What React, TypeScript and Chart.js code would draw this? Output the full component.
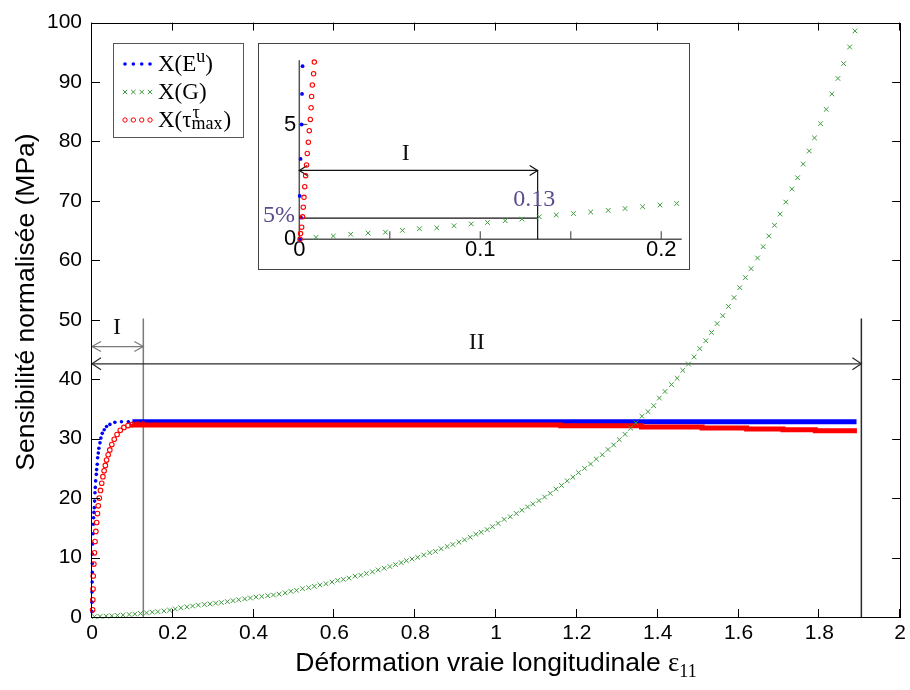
import React, { useEffect, useRef } from "react";
import { Chart, registerables } from "chart.js";
Chart.register(...registerables);

const SANS = '"Liberation Sans", Arial, Helvetica, sans-serif';
const SERIF = '"Liberation Serif", "Times New Roman", Times, serif';

// ---------------- main chart data (strain, normalised sensitivity MPa) ----------------
const blueRise: number[][] = [
  [0, 0.9], [0, 2.5], [0, 4.2], [0.0004, 5.9], [0.0008, 7.5], [0.0008, 9.0], [0.0012, 10.6],
  [0.0016, 12.3], [0.0025, 14.0], [0.0033, 15.6], [0.004, 16.7], [0.0049, 17.6], [0.0057, 18.4],
  [0.0065, 19.5], [0.0074, 20.9], [0.0082, 21.8], [0.009, 22.9], [0.0107, 24.0], [0.0115, 24.8],
  [0.013, 25.7], [0.014, 26.8], [0.0156, 27.6], [0.017, 28.4], [0.0197, 29.3], [0.022, 30.1],
  [0.0254, 30.9], [0.0303, 31.5], [0.036, 32.05], [0.0443, 32.4], [0.0566, 32.75], [0.073, 32.85],
  [0.09, 32.85], [0.106, 32.85],
];
const bluePlateau: number[][] = [[0.1, 32.85], [1.892, 32.85]];

const redRise: number[][] = [
  [0.0015, 1.2], [0.002, 2.9], [0.0025, 4.7], [0.003, 6.9], [0.0045, 8.9], [0.006, 10.8],
  [0.0075, 12.7], [0.0095, 14.4], [0.0115, 15.9], [0.0135, 17.4], [0.0155, 18.7], [0.018, 20.0],
  [0.021, 21.3], [0.024, 22.5], [0.027, 23.6], [0.03, 24.6], [0.033, 25.5], [0.036, 26.4],
  [0.04, 27.3], [0.044, 28.1], [0.049, 29.0], [0.055, 29.9], [0.062, 30.7], [0.07, 31.4],
  [0.079, 31.9], [0.089, 32.2], [0.1, 32.4], [0.113, 32.45], [0.126, 32.45],
];
const redPlateau: number[][] = [
  [0.1, 32.45], [1.16, 32.3], [1.36, 32.16], [1.51, 31.95], [1.62, 31.78], [1.71, 31.61],
  [1.79, 31.5], [1.85, 31.33], [1.893, 31.33],
];

const greenPoints: number[][] = [
  [0.006, 0.05], [0.02, 0.1], [0.035, 0.15], [0.049, 0.2], [0.063, 0.27], [0.077, 0.33],
  [0.092, 0.42], [0.106, 0.5], [0.12, 0.6], [0.135, 0.7], [0.149, 0.8], [0.163, 0.9],
  [0.178, 1.02], [0.192, 1.15], [0.206, 1.35], [0.22, 1.55], [0.235, 1.7], [0.249, 1.85],
  [0.263, 2.0], [0.278, 2.1], [0.292, 2.2], [0.306, 2.32], [0.32, 2.44], [0.335, 2.58],
  [0.349, 2.75], [0.363, 2.9], [0.378, 3.05], [0.392, 3.2], [0.406, 3.35], [0.42, 3.45],
  [0.435, 3.58], [0.449, 3.7], [0.463, 3.85], [0.478, 4.05],
  [0.492, 4.33], [0.506, 4.49], [0.521, 4.77], [0.536, 4.94], [0.55, 5.16], [0.564, 5.38],
  [0.579, 5.6], [0.594, 5.88], [0.608, 6.16], [0.622, 6.32], [0.636, 6.54], [0.651, 6.88],
  [0.665, 7.04], [0.679, 7.32], [0.694, 7.6], [0.708, 7.93], [0.723, 8.21], [0.737, 8.49],
  [0.751, 8.82], [0.765, 9.15], [0.778, 9.48], [0.792, 9.76], [0.806, 10.04], [0.821, 10.43],
  [0.836, 10.82], [0.85, 11.04], [0.864, 11.48], [0.879, 11.87], [0.893, 12.2], [0.908, 12.59],
  [0.922, 12.98], [0.936, 13.42], [0.95, 13.92], [0.963, 14.25], [0.978, 14.7], [0.991, 15.2],
  [1.005, 15.75], [1.02, 16.42], [1.035, 16.86], [1.05, 17.42], [1.064, 17.97], [1.078, 18.52],
  [1.091, 19.02], [1.106, 19.58], [1.12, 20.19], [1.134, 20.8], [1.148, 21.52], [1.162, 22.13],
  [1.176, 22.91], [1.19, 23.52], [1.204, 24.29], [1.219, 25.01], [1.234, 25.74], [1.248, 26.57],
  [1.263, 27.29], [1.277, 28.18], [1.291, 28.95], [1.305, 29.84], [1.319, 30.73], [1.333, 31.78],
  [1.346, 32.67], [1.361, 33.78], [1.376, 34.55], [1.39, 35.55], [1.404, 36.83], [1.418, 37.94],
  [1.434, 39.1], [1.448, 40.16], [1.462, 41.49], [1.476, 42.54], [1.49, 43.76], [1.504, 45.15],
  [1.519, 46.48], [1.533, 47.86], [1.547, 49.36], [1.561, 50.69], [1.575, 52.25], [1.589, 53.74],
  [1.603, 55.41], [1.617, 57.1], [1.631, 58.6], [1.647, 60.4], [1.661, 62.3], [1.675, 64.1],
  [1.689, 65.9], [1.703, 67.8], [1.717, 69.8], [1.732, 72.0], [1.746, 73.9], [1.76, 76.2],
  [1.775, 78.4], [1.788, 80.6], [1.803, 83.0], [1.817, 85.4], [1.831, 88.0], [1.846, 90.6],
  [1.86, 93.1], [1.875, 95.9], [1.888, 98.6],
];

// ---------------- inset data ----------------
const insetBlue: number[][] = [
  [0.0004, 0], [0.0009, 0.95], [0.0002, 1.89], [0.0007, 3.5], [0.0013, 5.0], [0.0015, 6.33], [0.0018, 7.54],
];
const insetRed: number[][] = [
  [0.0004, 0], [0.0007, 0.25], [0.0013, 0.53], [0.0018, 0.98], [0.0022, 1.4], [0.0026, 1.83],
  [0.003, 2.29], [0.0035, 2.77], [0.004, 3.24], [0.0044, 3.74], [0.005, 4.23], [0.0055, 4.73],
  [0.0061, 5.22], [0.0065, 5.73], [0.0068, 6.22], [0.0072, 6.72], [0.0079, 7.21], [0.0083, 7.72],
];
const insetGreen: number[][] = [
  [0.0092, 0.084], [0.0188, 0.14], [0.0284, 0.22], [0.038, 0.27], [0.0476, 0.31], [0.057, 0.39],
  [0.0664, 0.46], [0.076, 0.5], [0.0855, 0.59], [0.095, 0.67], [0.104, 0.73], [0.1138, 0.81],
  [0.123, 0.88], [0.1326, 0.98], [0.142, 1.06], [0.1515, 1.12], [0.161, 1.19], [0.1707, 1.26],
  [0.18, 1.34], [0.1897, 1.42], [0.1993, 1.49], [0.2085, 1.56],
];

// ---------------- axes / annotations ----------------
const xMin = 0, xMax = 2, xStep = 0.2;
const yMin = 0, yMax = 100, yStep = 10;
const insetXMax = 0.2113, insetYMax = 7.8;
const insetXLabels = ["0", "0.1", "0.2"];
const insetYLabels = ["0", "5"];

const regionIEnd = 0.127;
const regionIIEnd = 1.904;
const regionLineTop = 50.2;
const arrowIY = 45.5;
const arrowIIY = 42.6;
const labelIPos = [0.062, 48.6];
const labelIIPos = [0.952, 46.1];

const insetThresholdX = 0.1317;
const insetThresholdY = 0.92;
const insetArrowY = 3.0;
const insetLabelIPos = [0.0588, 3.71];
const insetLabel013Pos = [0.1298, 1.72];
const insetLabel5Pos = [-0.0112, 1.02];

const BLUE = "#0000ff";
const RED = "#ff0000";
const GREEN = "#3c9c3c";
const PURPLE = "#5b4a8c";

const pts = (a: number[][]) => a.map(([x, y]) => ({ x, y }));

function fmtNum(v: number) {
  const r = Math.round(v * 1000) / 1000;
  return String(r);
}

function line(ctx: any, x1: number, y1: number, x2: number, y2: number) {
  ctx.beginPath();
  ctx.moveTo(x1, y1);
  ctx.lineTo(x2, y2);
  ctx.stroke();
}

function arrowHead(ctx: any, x: number, y: number, dir: number, len: number, half: number) {
  ctx.beginPath();
  ctx.moveTo(x + dir * len, y - half);
  ctx.lineTo(x, y);
  ctx.lineTo(x + dir * len, y + half);
  ctx.stroke();
}

function drawRich(ctx: any, x: number, y: number, segs: any[], align: string) {
  let total = 0;
  for (const s of segs) {
    ctx.font = s[1];
    total += ctx.measureText(s[0]).width;
  }
  let cx = align === "center" ? x - total / 2 : x;
  for (const s of segs) {
    ctx.font = s[1];
    ctx.fillText(s[0], cx, y + (s[2] || 0));
    cx += ctx.measureText(s[0]).width;
  }
}

function crossMark(ctx: any, x: number, y: number, r: number) {
  ctx.beginPath();
  ctx.moveTo(x - r, y - r);
  ctx.lineTo(x + r, y + r);
  ctx.moveTo(x - r, y + r);
  ctx.lineTo(x + r, y - r);
  ctx.stroke();
}

const mainDecor = {
  id: "mainDecor",
  beforeDraw(chart: any) {
    const { ctx, width, height } = chart;
    ctx.save();
    ctx.fillStyle = "#fff";
    ctx.fillRect(0, 0, width, height);
    ctx.restore();
  },
  beforeDatasetsDraw(chart: any) {
    const ctx = chart.ctx;
    const xs = chart.scales.x, ys = chart.scales.y;
    const X = (v: number) => xs.getPixelForValue(v);
    const Y = (v: number) => ys.getPixelForValue(v);
    ctx.save();
    ctx.lineWidth = 1.5;
    // region I boundary (grey) and arrow
    ctx.strokeStyle = "#7a7a7a";
    line(ctx, X(regionIEnd), Y(0), X(regionIEnd), Y(regionLineTop));
    ctx.lineWidth = 1.2;
    line(ctx, X(0), Y(arrowIY), X(regionIEnd), Y(arrowIY));
    arrowHead(ctx, X(0), Y(arrowIY), 1, 9, 5);
    arrowHead(ctx, X(regionIEnd), Y(arrowIY), -1, 9, 5);
    // region II boundary and arrow
    ctx.strokeStyle = "#2a2a2a";
    ctx.lineWidth = 1.5;
    line(ctx, X(regionIIEnd), Y(0), X(regionIIEnd), Y(regionLineTop));
    ctx.lineWidth = 1.2;
    line(ctx, X(0), Y(arrowIIY), X(regionIIEnd), Y(arrowIIY));
    arrowHead(ctx, X(0), Y(arrowIIY), 1, 9, 6);
    arrowHead(ctx, X(regionIIEnd), Y(arrowIIY), -1, 9, 6);
    ctx.restore();
  },
  afterDatasetsDraw(chart: any) {
    const ctx = chart.ctx;
    const xs = chart.scales.x, ys = chart.scales.y;
    const X = (v: number) => xs.getPixelForValue(v);
    const Y = (v: number) => ys.getPixelForValue(v);
    const { left, right, top, bottom } = chart.chartArea;
    ctx.save();
    // box
    ctx.strokeStyle = "#000";
    ctx.lineWidth = 1;
    ctx.strokeRect(Math.round(left) - 0.5, Math.round(top) + 0.5, Math.round(right - left) + 1, Math.round(bottom - top));
    // inward ticks
    const tl = 8;
    for (const t of xs.ticks) {
      const px = Math.round(X(t.value)) - 0.5;
      line(ctx, px, bottom, px, bottom - tl);
      line(ctx, px, top, px, top + tl);
    }
    for (const t of ys.ticks) {
      const py = Math.round(Y(t.value)) + 0.5;
      line(ctx, left, py, left + tl, py);
      line(ctx, right, py, right - tl, py);
    }
    // region labels
    ctx.fillStyle = "#111";
    ctx.textAlign = "center";
    ctx.textBaseline = "middle";
    ctx.font = `24px ${SERIF}`;
    ctx.fillText("I", X(labelIPos[0]), Y(labelIPos[1]));
    ctx.fillText("II", X(labelIIPos[0]), Y(labelIIPos[1]));

    // legend
    const lx = 113.5, ly = 43.5, lw = 130, lh = 94;
    ctx.fillStyle = "#fff";
    ctx.fillRect(lx, ly, lw, lh);
    ctx.strokeStyle = "#555";
    ctx.lineWidth = 1;
    ctx.strokeRect(lx, ly, lw, lh);
    const mx = [125, 133.3, 141.7, 150];
    ctx.fillStyle = BLUE;
    for (const m of mx) {
      ctx.beginPath();
      ctx.arc(m, 64, 1.8, 0, Math.PI * 2);
      ctx.fill();
    }
    ctx.strokeStyle = GREEN;
    for (const m of mx) crossMark(ctx, m, 92, 2.2);
    ctx.strokeStyle = RED;
    for (const m of mx) {
      ctx.beginPath();
      ctx.arc(m, 120, 2.2, 0, Math.PI * 2);
      ctx.stroke();
    }
    ctx.fillStyle = "#000";
    ctx.textAlign = "left";
    ctx.textBaseline = "alphabetic";
    const big = `23px ${SERIF}`, small = `18px ${SERIF}`;
    drawRich(ctx, 158, 71, [["X(E", big, 0], ["u", small, -9], [")", big, 0]], "left");
    drawRich(ctx, 158, 98.5, [["X(G)", big, 0]], "left");
    ctx.font = big;
    let cx = 158;
    ctx.fillText("X(τ", cx, 126.5);
    cx += ctx.measureText("X(τ").width;
    ctx.font = small;
    ctx.fillText("τ", cx + 1, 118);
    ctx.fillText("max", cx, 129);
    cx += ctx.measureText("max").width + 1;
    ctx.font = big;
    ctx.fillText(")", cx, 126.5);

    // axis titles
    ctx.fillStyle = "#000";
    const titleFont = `26.5px ${SANS}`;
    drawRich(
      ctx, 496, 671,
      [["Déformation vraie longitudinale ", titleFont, 0], ["ε", `27px ${SERIF}`, 0], ["11", `18px ${SERIF}`, 6]],
      "center"
    );
    ctx.save();
    ctx.translate(33.6, 302);
    ctx.rotate(-Math.PI / 2);
    ctx.textAlign = "center";
    ctx.font = titleFont;
    ctx.fillText("Sensibilité normalisée (MPa)", 0, 0);
    ctx.restore();
    ctx.restore();
  },
};

const insetDecor = {
  id: "insetDecor",
  beforeDraw(chart: any) {
    const { ctx, width, height } = chart;
    ctx.save();
    ctx.fillStyle = "#fff";
    ctx.fillRect(0, 0, width, height);
    ctx.restore();
  },
  beforeDatasetsDraw(chart: any) {
    const ctx = chart.ctx;
    const xs = chart.scales.x, ys = chart.scales.y;
    const X = (v: number) => xs.getPixelForValue(v);
    const Y = (v: number) => ys.getPixelForValue(v);
    const { left, right, top, bottom } = chart.chartArea;
    ctx.save();
    // axes lines
    ctx.strokeStyle = "#555";
    ctx.lineWidth = 1.5;
    line(ctx, left, top, left, bottom);
    line(ctx, left, bottom, right, bottom);
    // inward ticks
    ctx.lineWidth = 1.2;
    for (const t of xs.ticks) {
      if (t.value === 0) continue;
      const px = X(t.value);
      line(ctx, px, bottom, px, bottom - 8);
    }
    for (const t of ys.ticks) {
      if (t.value === 0) continue;
      const py = Y(t.value);
      line(ctx, left, py, left + 8, py);
    }
    // annotations
    ctx.strokeStyle = "#111";
    ctx.lineWidth = 1.2;
    line(ctx, X(0), Y(insetThresholdY), X(insetThresholdX), Y(insetThresholdY));
    line(ctx, X(insetThresholdX), Y(0), X(insetThresholdX), Y(insetArrowY));
    line(ctx, X(0), Y(insetArrowY), X(insetThresholdX), Y(insetArrowY));
    arrowHead(ctx, X(0), Y(insetArrowY), 1, 8, 5);
    arrowHead(ctx, X(insetThresholdX), Y(insetArrowY), -1, 8, 5);
    ctx.restore();
  },
  afterDatasetsDraw(chart: any) {
    const ctx = chart.ctx;
    const xs = chart.scales.x, ys = chart.scales.y;
    const X = (v: number) => xs.getPixelForValue(v);
    const Y = (v: number) => ys.getPixelForValue(v);
    ctx.save();
    ctx.textAlign = "center";
    ctx.textBaseline = "middle";
    ctx.font = `24px ${SERIF}`;
    ctx.fillStyle = "#111";
    ctx.fillText("I", X(insetLabelIPos[0]), Y(insetLabelIPos[1]));
    ctx.fillStyle = PURPLE;
    ctx.fillText("0.13", X(insetLabel013Pos[0]), Y(insetLabel013Pos[1]));
    ctx.fillText("5%", X(insetLabel5Pos[0]), Y(insetLabel5Pos[1]));
    ctx.restore();
  },
};

export default function App() {
  const mainRef = useRef<HTMLCanvasElement>(null);
  const insetRef = useRef<HTMLCanvasElement>(null);

  useEffect(() => {
    const main = new Chart(mainRef.current as HTMLCanvasElement, {
      type: "scatter",
      data: {
        datasets: [
          {
            label: "X(G)", data: pts(greenPoints), showLine: false, pointStyle: "crossRot",
            pointRadius: 3.3, borderColor: GREEN, backgroundColor: GREEN, borderWidth: 1, order: 0, clip: false,
          },
          {
            label: "X(τ) rise", data: pts(redRise), showLine: false, pointStyle: "circle",
            pointRadius: 2.3, borderColor: RED, backgroundColor: "rgba(0,0,0,0)", borderWidth: 1.1, order: 1, clip: false,
          },
          {
            label: "X(τ)", data: pts(redPlateau), showLine: true, stepped: "after",
            pointRadius: 0, borderColor: RED, borderWidth: 5, order: 1,
          },
          {
            label: "X(E) rise", data: pts(blueRise), showLine: false, pointStyle: "circle",
            pointRadius: 1.8, borderColor: BLUE, backgroundColor: BLUE, borderWidth: 0, order: 2, clip: false,
          },
          {
            label: "X(E)", data: pts(bluePlateau), showLine: true,
            pointRadius: 0, borderColor: BLUE, borderWidth: 5, order: 2,
          },
        ],
      },
      options: {
        responsive: false,
        animation: false,
        events: [],
        layout: { padding: { left: 0, top: 16, right: 7, bottom: 0 } },
        plugins: { legend: { display: false }, tooltip: { enabled: false } },
        scales: {
          x: {
            type: "linear", min: xMin, max: xMax,
            afterFit: (s: any) => { s.height = 73; },
            grid: { display: false, drawTicks: false },
            border: { display: false },
            ticks: {
              stepSize: xStep, includeBounds: false, autoSkip: false, maxRotation: 0, padding: 4,
              color: "#000", font: { family: SANS, size: 21 },
              callback: (v: any) => fmtNum(Number(v)),
            },
          },
          y: {
            type: "linear", min: yMin, max: yMax,
            afterFit: (s: any) => { s.width = 92; },
            grid: { display: false, drawTicks: false },
            border: { display: false },
            ticks: {
              stepSize: yStep, includeBounds: false, autoSkip: false, padding: 10,
              color: "#000", font: { family: SANS, size: 21 },
              callback: (v: any) => fmtNum(Number(v)),
            },
          },
        },
      },
      plugins: [mainDecor],
    } as any);

    const inset = new Chart(insetRef.current as HTMLCanvasElement, {
      type: "scatter",
      data: {
        datasets: [
          {
            label: "G", data: pts(insetGreen), showLine: false, pointStyle: "crossRot",
            pointRadius: 3.3, borderColor: GREEN, borderWidth: 1, order: 0, clip: false,
          },
          {
            label: "tau", data: pts(insetRed), showLine: false, pointStyle: "circle",
            pointRadius: 2.2, borderColor: RED, backgroundColor: "rgba(0,0,0,0)", borderWidth: 1.1, order: 1, clip: false,
          },
          {
            label: "E", data: pts(insetBlue), showLine: false, pointStyle: "circle",
            pointRadius: 1.9, borderColor: BLUE, backgroundColor: BLUE, borderWidth: 0, order: 2, clip: false,
          },
        ],
      },
      options: {
        responsive: false,
        animation: false,
        events: [],
        layout: { padding: { left: 0, top: 9.3, right: 7.3, bottom: 0 } },
        plugins: { legend: { display: false }, tooltip: { enabled: false } },
        scales: {
          x: {
            type: "linear", min: 0, max: insetXMax,
            afterFit: (s: any) => { s.height = 29.7; },
            grid: { display: false, drawTicks: false },
            border: { display: false },
            ticks: {
              stepSize: 0.05, includeBounds: false, autoSkip: false, maxRotation: 0, padding: -3,
              color: "#000", font: { family: SANS, size: 22 },
              callback: (v: any) => {
                const s = fmtNum(Number(v));
                return insetXLabels.includes(s) ? s : "";
              },
            },
          },
          y: {
            type: "linear", min: 0, max: insetYMax,
            afterFit: (s: any) => { s.width = 40.3; },
            grid: { display: false, drawTicks: false },
            border: { display: false },
            ticks: {
              stepSize: 5, includeBounds: false, autoSkip: false, padding: 3,
              color: "#000", font: { family: SANS, size: 22 },
              callback: (v: any) => {
                const s = fmtNum(Number(v));
                return insetYLabels.includes(s) ? s : "";
              },
            },
          },
        },
      },
      plugins: [insetDecor],
    } as any);

    return () => {
      main.destroy();
      inset.destroy();
    };
  }, []);

  return (
    <div style={{ position: "absolute", left: 0, top: 0, width: 910, height: 690, background: "#fff" }}>
      <canvas
        ref={mainRef}
        width={910}
        height={690}
        style={{ position: "absolute", left: 0, top: 0, width: 910, height: 690 }}
      />
      <div
        style={{
          position: "absolute", left: 258, top: 43, width: 432, height: 227,
          boxSizing: "border-box", border: "1px solid #444", background: "#fff",
        }}
      >
        <canvas ref={insetRef} width={430} height={225} style={{ display: "block", width: 430, height: 225 }} />
      </div>
    </div>
  );
}
